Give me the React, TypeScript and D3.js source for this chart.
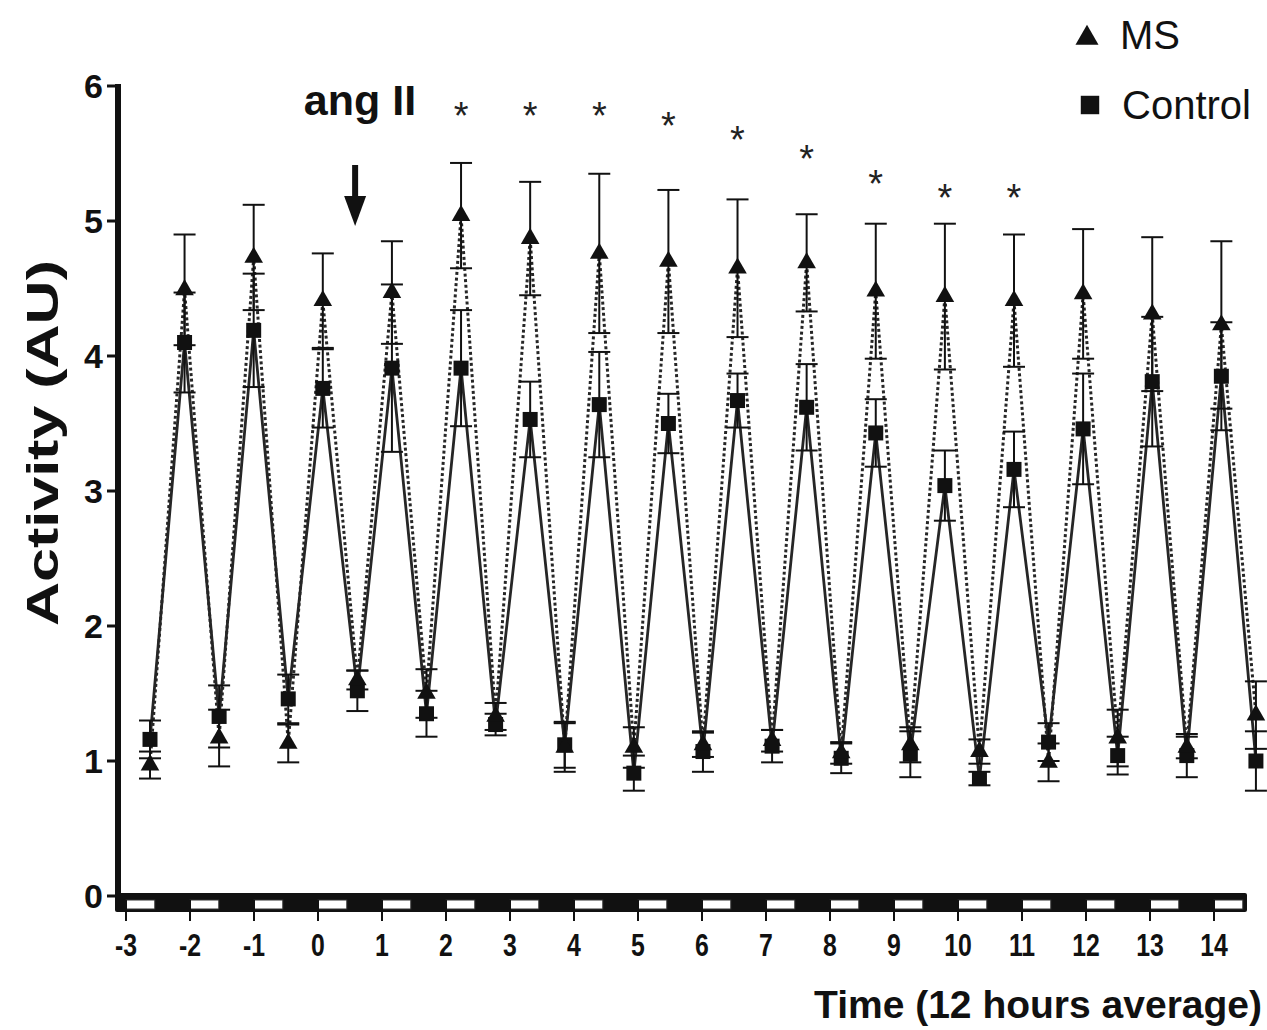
import * as d3 from 'd3'

// 12 h averages, alternating dark (peak) / light (trough) periods
const msMean = [
  0.97, 4.49, 1.17, 4.73, 1.13, 4.41, 1.6, 4.47, 1.5, 5.04, 1.33, 4.87, 1.1,
  4.76, 1.1, 4.7, 1.12, 4.65, 1.15, 4.69, 1.06, 4.48, 1.12, 4.44, 1.07, 4.41,
  0.99, 4.46, 1.17, 4.31, 1.1, 4.23, 1.34,
]
const msSem = [
  0.1, 0.41, 0.21, 0.39, 0.14, 0.35, 0.07, 0.38, 0.18, 0.39, 0.1, 0.42, 0.18,
  0.59, 0.15, 0.53, 0.09, 0.51, 0.08, 0.36, 0.08, 0.5, 0.13, 0.54, 0.09, 0.49,
  0.14, 0.48, 0.21, 0.57, 0.08, 0.62, 0.25,
]
const ctrlMean = [
  1.16, 4.1, 1.33, 4.19, 1.46, 3.76, 1.52, 3.91, 1.35, 3.91, 1.27, 3.53, 1.12,
  3.64, 0.91, 3.5, 1.07, 3.67, 1.11, 3.62, 1.02, 3.43, 1.05, 3.04, 0.87, 3.16,
  1.14, 3.46, 1.04, 3.81, 1.04, 3.85, 1.0,
]
const ctrlSem = [
  0.14, 0.37, 0.23, 0.42, 0.18, 0.29, 0.15, 0.62, 0.17, 0.43, 0.08, 0.28, 0.17,
  0.39, 0.13, 0.22, 0.15, 0.2, 0.12, 0.32, 0.11, 0.25, 0.17, 0.26, 0.05, 0.28,
  0.14, 0.41, 0.14, 0.48, 0.16, 0.4, 0.22,
]

// significance marks: point index and height (AU)
const starIdx = [9, 11, 13, 15, 17, 19, 21, 23, 25]
const starY = [5.84, 5.84, 5.84, 5.76, 5.66, 5.52, 5.33, 5.23, 5.23]

const xTicks = d3.range(-3, 15)
const yTicks = [0, 1, 2, 3, 4, 5, 6]

const W = 1267
const H = 1030
const INK = '#111'

export default function App() {
  const y = d3.scaleLinear().domain([0, 6]).range([896, 86])
  const x = d3.scaleLinear().domain([-3.125, 14.5]).range([118, 1246])
  // points are spread evenly over the day axis (GraphPad spacing)
  const px = d3
    .scaleLinear()
    .domain([0, msMean.length - 1])
    .range([x(-2.625), x(14.655)])

  const line = d3
    .line<number>()
    .x((_, i) => px(i))
    .y((d) => y(d))

  const tri = d3.symbol().type(d3.symbolTriangle).size(150)()
  const sq = d3.symbol().type(d3.symbolSquare).size(225)()
  const triLeg = d3.symbol().type(d3.symbolTriangle).size(230)()
  const sqLeg = d3.symbol().type(d3.symbolSquare).size(340)()

  const errBars = (mean: number[], sem: number[], key: string) =>
    mean.map((m, i) => {
      const cx = px(i)
      const t = y(m + sem[i])
      const b = y(m - sem[i])
      return (
        <g key={key + i} stroke={INK} strokeWidth={2}>
          <line x1={cx} x2={cx} y1={t} y2={b} />
          <line x1={cx - 11} x2={cx + 11} y1={t} y2={t} />
          <line x1={cx - 11} x2={cx + 11} y1={b} y2={b} />
        </g>
      )
    })

  const arrowX = x(0.58)

  return (
    <div style={{ position: 'absolute', left: 0, top: 0 }}>
      <svg width={W} height={H} style={{ display: 'block', background: '#fff' }}
        fontFamily="'Liberation Sans', Arial, sans-serif">
        {/* lines */}
        <path d={line(msMean) || ''} fill="none" stroke="#262626" strokeWidth={3}
          strokeDasharray="3,2.6" />
        <path d={line(ctrlMean) || ''} fill="none" stroke="#262626" strokeWidth={2.8} />

        {errBars(msMean, msSem, 'ms')}
        {errBars(ctrlMean, ctrlSem, 'c')}

        {ctrlMean.map((m, i) => (
          <path key={'cs' + i} d={sq || ''} transform={`translate(${px(i)},${y(m)})`} fill={INK} />
        ))}
        {msMean.map((m, i) => (
          <path key={'mt' + i} d={tri || ''} transform={`translate(${px(i)},${y(m)})`} fill={INK} />
        ))}

        {/* asterisks */}
        {starIdx.map((idx, k) => (
          <text key={'st' + k} x={px(idx)} y={y(starY[k]) + 21} fontSize={38}
            textAnchor="middle" fill="#222">*</text>
        ))}

        {/* y axis */}
        <rect x={115} y={84} width={6} height={814} fill={INK} />
        {yTicks.map((t) => (
          <g key={'yt' + t}>
            <line x1={107} x2={117} y1={y(t)} y2={y(t)} stroke={INK} strokeWidth={3} />
            <text x={103} y={y(t)} dy="0.36em" textAnchor="end" fontSize={34}
              fontWeight="bold" fill={INK}>{t}</text>
          </g>
        ))}
        <text transform={`translate(42,443) rotate(-90) scale(1,0.72)`} fontSize={61}
          fontWeight="bold" textAnchor="middle" dy="0.36em" fill={INK}>Activity (AU)</text>

        {/* x axis with light/dark bar */}
        <rect x={115} y={893} width={1132} height={19} rx={2} fill={INK} />
        {xTicks.map((t) => (
          <g key={'xt' + t}>
            <rect x={x(t)} y={900} width={x(t + 0.45) - x(t)} height={9} fill="#fff"
              stroke="#333" strokeWidth={1} />
            <line x1={x(t)} x2={x(t)} y1={900} y2={921} stroke={INK} strokeWidth={2} />
            <text transform={`translate(${x(t)},945) scale(0.8,1)`} dy="0.36em"
              textAnchor="middle" fontSize={31} fontWeight="bold" fill={INK}>{t}</text>
          </g>
        ))}
        <text x={1262} y={1004} dy="0.36em" textAnchor="end" fontSize={39}
          fontWeight="bold" fill={INK}>Time (12 hours average)</text>

        {/* treatment arrow */}
        <text x={360} y={100} dy="0.36em" textAnchor="middle" fontSize={43}
          fontWeight="bold" fill={INK}>ang II</text>
        <rect x={arrowX - 3} y={165} width={6} height={34} fill={INK} />
        <path d={`M${arrowX - 11},196L${arrowX + 11},196L${arrowX},226Z`} fill={INK} />

        {/* legend */}
        <path d={triLeg || ''} transform="translate(1087,38)" fill={INK} />
        <text x={1120} y={35} dy="0.36em" fontSize={40} fill={INK}>MS</text>
        <path d={sqLeg || ''} transform="translate(1090,105)" fill={INK} />
        <text x={1122} y={105} dy="0.36em" fontSize={40} fill={INK}>Control</text>
      </svg>
    </div>
  )
}
